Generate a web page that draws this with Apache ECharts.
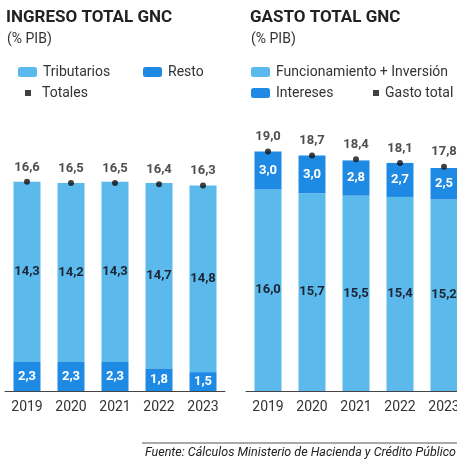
<!DOCTYPE html>
<html>
<head>
<meta charset="utf-8">
<script src="https://cdn.jsdelivr.net/npm/echarts@6/dist/echarts.min.js"></script>
<style>
  html, body { margin: 0; padding: 0; background: #fff; overflow: hidden; }
  #chart { width: 470px; height: 460px; }
</style>
</head>
<body>
<div id="chart"></div>
<script>
// datos
const years = ['2019', '2020', '2021', '2022', '2023']
const tributarios = [14.3, 14.2, 14.3, 14.7, 14.8]
const resto = [2.3, 2.3, 2.3, 1.8, 1.5]
const totales = [16.6, 16.5, 16.5, 16.4, 16.3]
const funcionamiento = [16.0, 15.7, 15.5, 15.4, 15.2]
const intereses = [3.0, 3.0, 2.8, 2.7, 2.5]
const gastoTotal = [19.0, 18.7, 18.4, 18.1, 17.8]

const LIGHT = '#5cb9ec'
const DARK = '#1f8ae4'
const FONT = 'Roboto'

// el lienzo es algo más ancho que la ventana: el gráfico derecho queda cortado como en el original
const chart = echarts.init(document.getElementById('chart'), null, { renderer: 'canvas' })

const coma = p => p.value.toFixed(1).replace('.', ',')

function axisX (idx) {
  return {
    type: 'category',
    gridIndex: idx,
    data: years,
    axisLine: { lineStyle: { color: '#444', width: 1 } },
    axisTick: { show: false },
    axisLabel: { color: '#333', fontSize: 14, fontFamily: FONT, margin: 9 }
  }
}

function axisY (idx) {
  return { type: 'value', gridIndex: idx, min: 0, max: 20, show: false, splitLine: { show: false } }
}

function barra (name, data, idx, color, labelColor) {
  return {
    name,
    type: 'bar',
    xAxisIndex: idx,
    yAxisIndex: idx,
    stack: 'g' + idx,
    data,
    barWidth: 27,
    itemStyle: { color },
    label: {
      show: true,
      position: 'inside',
      formatter: coma,
      color: labelColor,
      fontFamily: FONT,
      fontWeight: 'bold',
      fontSize: 13
    }
  }
}

function puntos (name, data, idx) {
  return {
    name,
    type: 'scatter',
    xAxisIndex: idx,
    yAxisIndex: idx,
    data,
    symbol: 'circle',
    symbolSize: 6,
    itemStyle: { color: '#111' },
    z: 5,
    label: {
      show: true,
      position: 'top',
      distance: 5,
      formatter: coma,
      color: '#222',
      fontFamily: FONT,
      fontWeight: 'bold',
      fontSize: 13
    }
  }
}

function leyenda (name, left, top, icon, w, h, gap) {
  return {
    data: [name],
    left,
    top,
    icon,
    itemWidth: w,
    itemHeight: h,
    itemGap: 0,
    padding: 0,
    selectedMode: false,
    textStyle: { color: '#333', fontSize: 14, fontFamily: FONT, padding: [0, 0, 0, gap] }
  }
}

const option = {
  backgroundColor: '#fff',
  animation: false,
  title: [
    { text: 'INGRESO TOTAL GNC', left: 6, top: 9, padding: 0,
      textStyle: { fontSize: 17, fontWeight: 'bold', color: '#222', fontFamily: FONT } },
    { text: '(% PIB)', left: 7, top: 32, padding: 0,
      textStyle: { fontSize: 14, fontWeight: 'normal', color: '#333', fontFamily: FONT } },
    { text: 'GASTO TOTAL GNC', left: 250, top: 9, padding: 0,
      textStyle: { fontSize: 17, fontWeight: 'bold', color: '#222', fontFamily: FONT } },
    { text: '(% PIB)', left: 251, top: 32, padding: 0,
      textStyle: { fontSize: 14, fontWeight: 'normal', color: '#333', fontFamily: FONT } }
  ],
  legend: [
    leyenda('Tributarios', 18, 65, 'roundRect', 19, 10, 1),
    leyenda('Resto', 143, 65, 'roundRect', 19, 10, 1),
    leyenda('Totales', 25, 86, 'rect', 6, 6, 6),
    leyenda('Funcionamiento + Inversión', 251, 65, 'roundRect', 19, 10, 1),
    leyenda('Intereses', 251, 86, 'roundRect', 19, 10, 1),
    leyenda('Gasto total', 373, 86, 'rect', 6, 6, 1)
  ],
  grid: [
    { left: 5, width: 220, top: 139, bottom: 69 },
    { left: 246, width: 220, top: 139, bottom: 69 }
  ],
  xAxis: [axisX(0), axisX(1)],
  yAxis: [axisY(0), axisY(1)],
  series: [
    barra('Resto', resto, 0, DARK, '#fff'),
    barra('Tributarios', tributarios, 0, LIGHT, '#1b2535'),
    puntos('Totales', totales, 0),
    barra('Funcionamiento + Inversión', funcionamiento, 1, LIGHT, '#1b2535'),
    barra('Intereses', intereses, 1, DARK, '#fff'),
    puntos('Gasto total', gastoTotal, 1)
  ],
  graphic: [
    { type: 'line', shape: { x1: 142, y1: 443, x2: 470, y2: 443 },
      style: { stroke: '#555', lineWidth: 1 } },
    { type: 'text', left: 145, top: 446,
      style: { text: 'Fuente: Cálculos Ministerio de Hacienda y Crédito Público',
        fill: '#222', font: 'italic 12.5px Roboto' } }
  ]
}

chart.setOption(option)
</script>
</body>
</html>
